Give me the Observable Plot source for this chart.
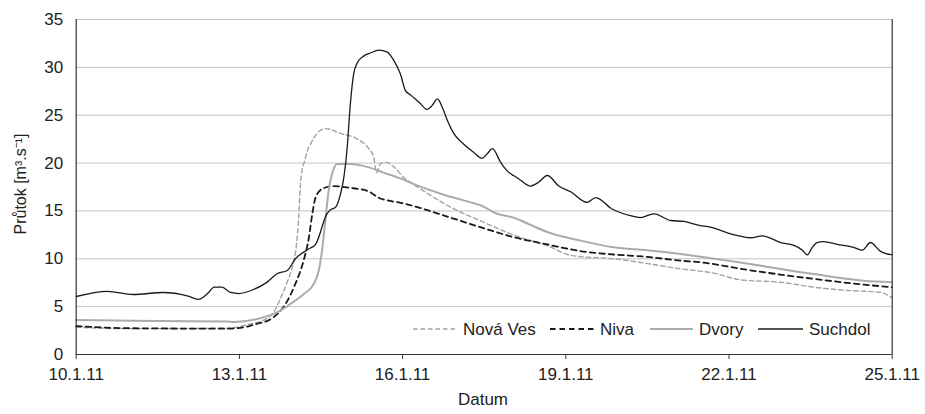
<!DOCTYPE html>
<html><head><meta charset="utf-8">
<script src="https://cdn.jsdelivr.net/npm/d3@7"></script>
<script src="https://cdn.jsdelivr.net/npm/@observablehq/plot@0.6"></script>
<style>
body{margin:0;background:#fff;}
#wrap{position:relative;width:925px;height:414px;font-family:"Liberation Sans",Arial,Helvetica,sans-serif;color:#222;}
#wrap svg{position:absolute;left:0;top:0;}
.lab{position:absolute;font-size:17px;white-space:nowrap;line-height:1;}
.leg{position:absolute;font-size:17px;white-space:nowrap;line-height:1;}
</style></head><body><div id="wrap"></div>
<script>
// ---- data (x = days since 10.1.2011 00:00, y = discharge m3/s) ----
const seriesNames = ["Nová Ves", "Niva", "Dvory", "Suchdol"];
const tickDays = [0, 3, 6, 9, 12, 15];
const tickLabels = ["10.1.11", "13.1.11", "16.1.11", "19.1.11", "22.1.11", "25.1.11"];
const yTicks = [0, 5, 10, 15, 20, 25, 30, 35];

const novaVes = [[0,2.85],[0.94,2.7],[2.78,2.75],[3.14,3.1],[3.51,3.8],[3.63,4.4],[3.75,5.8],[3.88,7.6],[4.0,9.8],[4.05,11.5],[4.09,14.3],[4.12,17.6],[4.15,19.2],[4.2,20.2],[4.25,21.3],[4.31,22.0],[4.43,23.1],[4.58,23.6],[4.86,23.1],[5.17,22.5],[5.38,21.5],[5.47,20.6],[5.52,19.0],[5.59,19.9],[5.69,20.1],[5.84,19.6],[6.02,18.5],[6.33,17.3],[6.88,15.4],[7.46,13.9],[8.08,12.4],[8.69,11.3],[9.03,10.45],[9.30,10.2],[9.64,10.1],[9.88,10.0],[10.50,9.5],[11.11,8.95],[11.72,8.5],[12.21,7.8],[12.95,7.55],[13.56,7.03],[14.17,6.7],[14.78,6.5],[15.0,5.9]];

const niva = [[0,2.96],[0.94,2.75],[2.78,2.7],[3.20,3.0],[3.26,3.1],[3.63,3.9],[3.85,5.3],[4.03,7.4],[4.18,9.8],[4.28,12.3],[4.34,14.7],[4.40,16.4],[4.52,17.3],[4.74,17.6],[5.04,17.4],[5.35,17.1],[5.59,16.3],[5.72,16.1],[5.96,15.85],[6.88,14.3],[7.43,13.3],[8.08,12.2],[8.66,11.5],[9.27,10.8],[9.88,10.45],[10.50,10.2],[11.11,9.8],[11.45,9.65],[12.33,8.85],[13.56,7.9],[14.48,7.3],[15.0,7.03]];

const dvory = [[0,3.6],[1.55,3.5],[2.78,3.45],[2.9,3.4],[3.39,3.8],[3.69,4.4],[3.94,5.3],[4.18,6.3],[4.37,7.4],[4.46,8.8],[4.52,10.9],[4.58,14.0],[4.64,17.1],[4.71,19.0],[4.80,19.9],[5.04,19.9],[5.35,19.6],[5.65,19.0],[5.96,18.4],[6.21,17.8],[6.70,16.8],[7.31,15.8],[7.43,15.6],[7.74,14.7],[8.04,14.3],[8.17,14.0],[8.66,12.8],[9.27,11.9],[9.88,11.2],[10.50,10.9],[11.11,10.5],[11.45,10.25],[12.33,9.5],[13.56,8.4],[14.48,7.7],[15.0,7.55]];

const suchdol = [[0,6.06],[0.57,6.6],[1.05,6.27],[1.60,6.48],[2.04,6.13],[2.25,5.75],[2.41,6.34],[2.54,7.03],[2.68,7.03],[2.84,6.48],[2.99,6.37],[3.26,6.79],[3.51,7.56],[3.69,8.43],[3.88,8.78],[4.03,10.0],[4.28,11.04],[4.40,11.5],[4.61,14.7],[4.67,15.1],[4.77,15.4],[4.86,16.8],[4.92,18.5],[4.98,21.5],[5.04,26.2],[5.10,29.3],[5.17,30.5],[5.29,31.2],[5.41,31.5],[5.56,31.8],[5.72,31.6],[5.84,30.7],[5.96,29.3],[6.05,27.6],[6.15,27.1],[6.33,26.2],[6.45,25.6],[6.54,26.0],[6.64,26.7],[6.73,25.8],[6.82,24.5],[6.94,23.1],[7.12,22.0],[7.31,21.1],[7.46,20.5],[7.56,21.0],[7.65,21.5],[7.80,20.1],[7.86,19.6],[7.98,18.9],[8.04,18.7],[8.17,18.2],[8.35,17.6],[8.50,18.0],[8.66,18.7],[8.87,17.6],[9.09,17.0],[9.39,15.9],[9.55,16.4],[9.85,15.2],[10.19,14.5],[10.37,14.3],[10.62,14.7],[10.93,14.0],[11.17,13.9],[11.45,13.5],[11.66,13.3],[12.03,12.6],[12.40,12.2],[12.61,12.4],[12.95,11.7],[13.19,11.4],[13.35,10.9],[13.44,10.4],[13.53,11.2],[13.62,11.7],[13.74,11.8],[13.99,11.5],[14.29,11.2],[14.45,10.9],[14.60,11.7],[14.78,10.8],[15.0,10.4]];

// ---- build ----
const t0 = Date.UTC(2011, 0, 10);
const toDate = d => new Date(t0 + d * 864e5);
const rows = (arr) => arr.map(([d, v]) => ({date: toDate(d), q: v}));
const styles = {
  "Nová Ves": {stroke: "#a3a3a3", strokeWidth: 1.4, strokeDasharray: "4.5,3"},
  "Niva": {stroke: "#1a1a1a", strokeWidth: 1.8, strokeDasharray: "5.5,4"},
  "Dvory": {stroke: "#ababab", strokeWidth: 2, strokeDasharray: null},
  "Suchdol": {stroke: "#1a1a1a", strokeWidth: 1.3, strokeDasharray: null}
};
const seriesData = {"Nová Ves": novaVes, "Niva": niva, "Dvory": dvory, "Suchdol": suchdol};
const xTicks = tickDays.map(toDate);
const xDomain = [toDate(tickDays[0]), toDate(tickDays[tickDays.length - 1])];

const lineMarks = seriesNames.map(name => Plot.line(rows(seriesData[name]), {
  x: "date", y: "q", curve: "monotone-x",
  stroke: styles[name].stroke, strokeWidth: styles[name].strokeWidth,
  strokeDasharray: styles[name].strokeDasharray
}));

const chart = Plot.plot({
  width: 925, height: 414,
  marginLeft: 75.7, marginRight: 33.3, marginTop: 19, marginBottom: 60,
  style: {fontFamily: '"Liberation Sans", Arial, sans-serif', fontSize: "17px", color: "#222", background: "transparent"},
  x: {type: "utc", domain: xDomain},
  y: {domain: [0, 35]},
  marks: [
    Plot.gridY(yTicks, {stroke: "#c4c4c4", strokeOpacity: 1, strokeWidth: 1}),
    Plot.axisY(yTicks, {tickSize: 0, tickPadding: 13, label: null, fill: "#222", fontSize: 17}),
    Plot.axisX(xTicks, {tickSize: 5, tickPadding: 8, stroke: "#333", label: null, fill: "#222", fontSize: 17,
      tickFormat: (d, i) => tickLabels[tickDays.indexOf(Math.round((d - t0) / 864e5))]}),
    ...lineMarks,
    Plot.ruleX(xDomain, {stroke: "#333", strokeWidth: 1.2}),
    Plot.ruleY([0], {stroke: "#333", strokeWidth: 1.2})
  ]
});
const wrap = document.getElementById("wrap");
wrap.appendChild(chart);

// axis titles
const xl = document.createElement("div");
xl.className = "lab"; xl.textContent = "Datum";
xl.style.left = "483px"; xl.style.top = "399px"; xl.style.transform = "translate(-50%,-50%)";
wrap.appendChild(xl);
const yl = document.createElement("div");
yl.className = "lab"; yl.textContent = "Průtok [m³.s⁻¹]";
yl.style.fontSize = "16px";
yl.style.left = "21px"; yl.style.top = "184px"; yl.style.transform = "translate(-50%,-50%) rotate(-90deg)";
wrap.appendChild(yl);

// legend (inside plot, bottom right)
const legPos = {"Nová Ves": [413, 458, 463], "Niva": [550, 597, 600], "Dvory": [650, 693, 699], "Suchdol": [758, 803, 809]};
const legY = 329;
seriesNames.forEach(name => {
  const [a, b, t] = legPos[name];
  const s = styles[name];
  const sw = document.createElementNS("http://www.w3.org/2000/svg", "svg");
  sw.setAttribute("width", b - a); sw.setAttribute("height", 6);
  sw.style.position = "absolute"; sw.style.left = a + "px"; sw.style.top = (legY - 3) + "px";
  const ln = document.createElementNS("http://www.w3.org/2000/svg", "line");
  ln.setAttribute("x1", 0); ln.setAttribute("x2", b - a); ln.setAttribute("y1", 3); ln.setAttribute("y2", 3);
  ln.setAttribute("stroke", s.stroke); ln.setAttribute("stroke-width", s.strokeWidth);
  if (s.strokeDasharray) ln.setAttribute("stroke-dasharray", s.strokeDasharray);
  sw.appendChild(ln);
  wrap.appendChild(sw);
  const tx = document.createElement("div");
  tx.className = "leg"; tx.textContent = name;
  tx.style.left = t + "px"; tx.style.top = legY + "px"; tx.style.transform = "translateY(-50%)";
  wrap.appendChild(tx);
});
</script></body></html>
